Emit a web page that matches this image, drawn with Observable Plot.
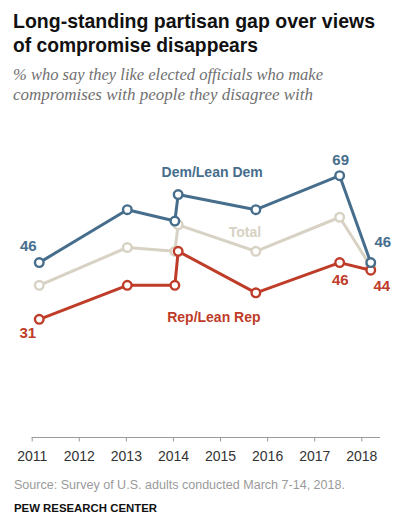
<!DOCTYPE html>
<html>
<head>
<meta charset="utf-8">
<script src="https://cdn.jsdelivr.net/npm/d3@7"></script>
<script src="https://cdn.jsdelivr.net/npm/@observablehq/plot@0.6"></script>
<style>
  html, body { margin: 0; padding: 0; background: #fff; }
  #wrap { position: relative; width: 395px; height: 530px; overflow: hidden; }
  .abs { position: absolute; left: 13px; white-space: nowrap; }
  .fit { display: inline-block; transform-origin: 0 50%; }
  #title { top: 8.7px; font: bold 21px/24px "Liberation Sans", Arial, sans-serif; color: #111; }
  #subtitle { top: 64.6px; font: italic 16px/20px "Liberation Serif", serif; color: #707070; }
  #source { top: 478.2px; left: 14px; font: 12.5px/15px "Liberation Sans", Arial, sans-serif; color: #9a9a9a; }
  #pew { top: 501.7px; left: 14px; font: bold 11px/13px "Liberation Sans", Arial, sans-serif; color: #111; }
  #chart { position: absolute; left: 0; top: 110px; }
</style>
</head>
<body>
<div id="wrap">
  <div id="title" class="abs"><span class="fit" data-w="362">Long-standing partisan gap over views</span><br><span class="fit" data-w="245">of compromise disappears</span></div>
  <div id="subtitle" class="abs"><span class="fit" data-w="310">% who say they like elected officials who make</span><br><span class="fit" data-w="300">compromises with people they disagree with</span></div>
  <div id="chart"></div>
  <div id="source" class="abs"><span class="fit" data-w="331">Source: Survey of U.S. adults conducted March 7-14, 2018.</span></div>
  <div id="pew" class="abs"><span class="fit" data-w="143">PEW RESEARCH CENTER</span></div>
</div>
<script>
// Survey dates (decimal years)
const dates = [2011.15, 2013.02, 2014.03, 2014.10, 2015.75, 2017.53, 2018.19];
// Series values
const dem = [46, 60, 57, 64, 60, 69, 46];
const total = [40, 50, 49, 56, 49, 58, 45];
const rep = [31, 40, 40, 49, 38, 46, 44];
// Tick labels
const years = [2011, 2012, 2013, 2014, 2015, 2016, 2017, 2018];
const seriesNames = ["Total", "Rep/Lean Rep", "Dem/Lean Dem"];
const seriesColors = ["#d7d2c3", "#be3c28", "#466e8c"];

const seriesValues = [total, rep, dem];
const rows = seriesNames.map((name, s) =>
  dates.map((d, i) => ({series: name, date: d, value: seriesValues[s][i], i}))
);
const [totalRows, repRows, demRows] = rows;

const font = "Liberation Sans, Arial, sans-serif";
const marks = [
  Plot.frame({anchor: "bottom", stroke: "#9a9a9a", strokeWidth: 1}),
  Plot.axisX(years, {tickSize: 4.5, tickPadding: 9, tickFormat: d => String(d),
    fontSize: 14, stroke: "#9a9a9a", fill: "#333", label: null})
];
rows.forEach((data, s) => {
  marks.push(Plot.line(data, {x: "date", y: "value", stroke: seriesColors[s], strokeWidth: 3, curve: "linear"}));
  marks.push(Plot.dot(data, {x: "date", y: "value", r: 4.3, fill: "white", stroke: seriesColors[s], strokeWidth: 2.4}));
});
const lbl = (data, idx, text, color, dx, dy, size, weight) =>
  Plot.text(data.filter(d => d.i === idx), {x: "date", y: "value", text: () => text,
    fill: color, dx, dy, fontSize: size, fontWeight: weight, textAnchor: "middle"});

// value labels
marks.push(lbl(demRows, 0, String(dem[0]), seriesColors[2], -11, -16, 15, "bold"));
marks.push(lbl(repRows, 0, String(rep[0]), seriesColors[1], -11.5, 13.5, 15, "bold"));
marks.push(lbl(demRows, 5, String(dem[5]), seriesColors[2], 1, -15, 15, "bold"));
marks.push(lbl(demRows, 6, String(dem[6]), seriesColors[2], 12, -20.5, 15, "bold"));
marks.push(lbl(repRows, 5, String(rep[5]), seriesColors[1], 0.7, 18, 15, "bold"));
marks.push(lbl(repRows, 6, String(rep[6]), seriesColors[1], 11, 16.5, 15, "bold"));
// series labels
marks.push(lbl(demRows, 3, seriesNames[2], seriesColors[2], 34, -22, 14, "bold"));
marks.push(lbl(totalRows, 4, seriesNames[0], seriesColors[0], -11, -19, 14, "bold"));
marks.push(lbl(repRows, 4, seriesNames[1], seriesColors[1], -42, 25, 14, "bold"));

const chart = Plot.plot({
  width: 395,
  height: 360,
  marginLeft: 31.7,
  marginRight: 16,
  marginTop: 0,
  marginBottom: 33,
  style: {fontFamily: font, background: "transparent", overflow: "visible"},
  x: {domain: [2011, 2018.376], label: null},
  y: {domain: [0, 80], range: [326, 23.6], axis: null, label: null},
  marks
});
document.getElementById("chart").appendChild(chart);

// fit header/footer text widths
document.querySelectorAll(".fit").forEach(el => {
  const target = +el.dataset.w;
  const w = el.getBoundingClientRect().width;
  if (w > 0) el.style.transform = `scaleX(${target / w})`;
});
</script>
</body>
</html>
